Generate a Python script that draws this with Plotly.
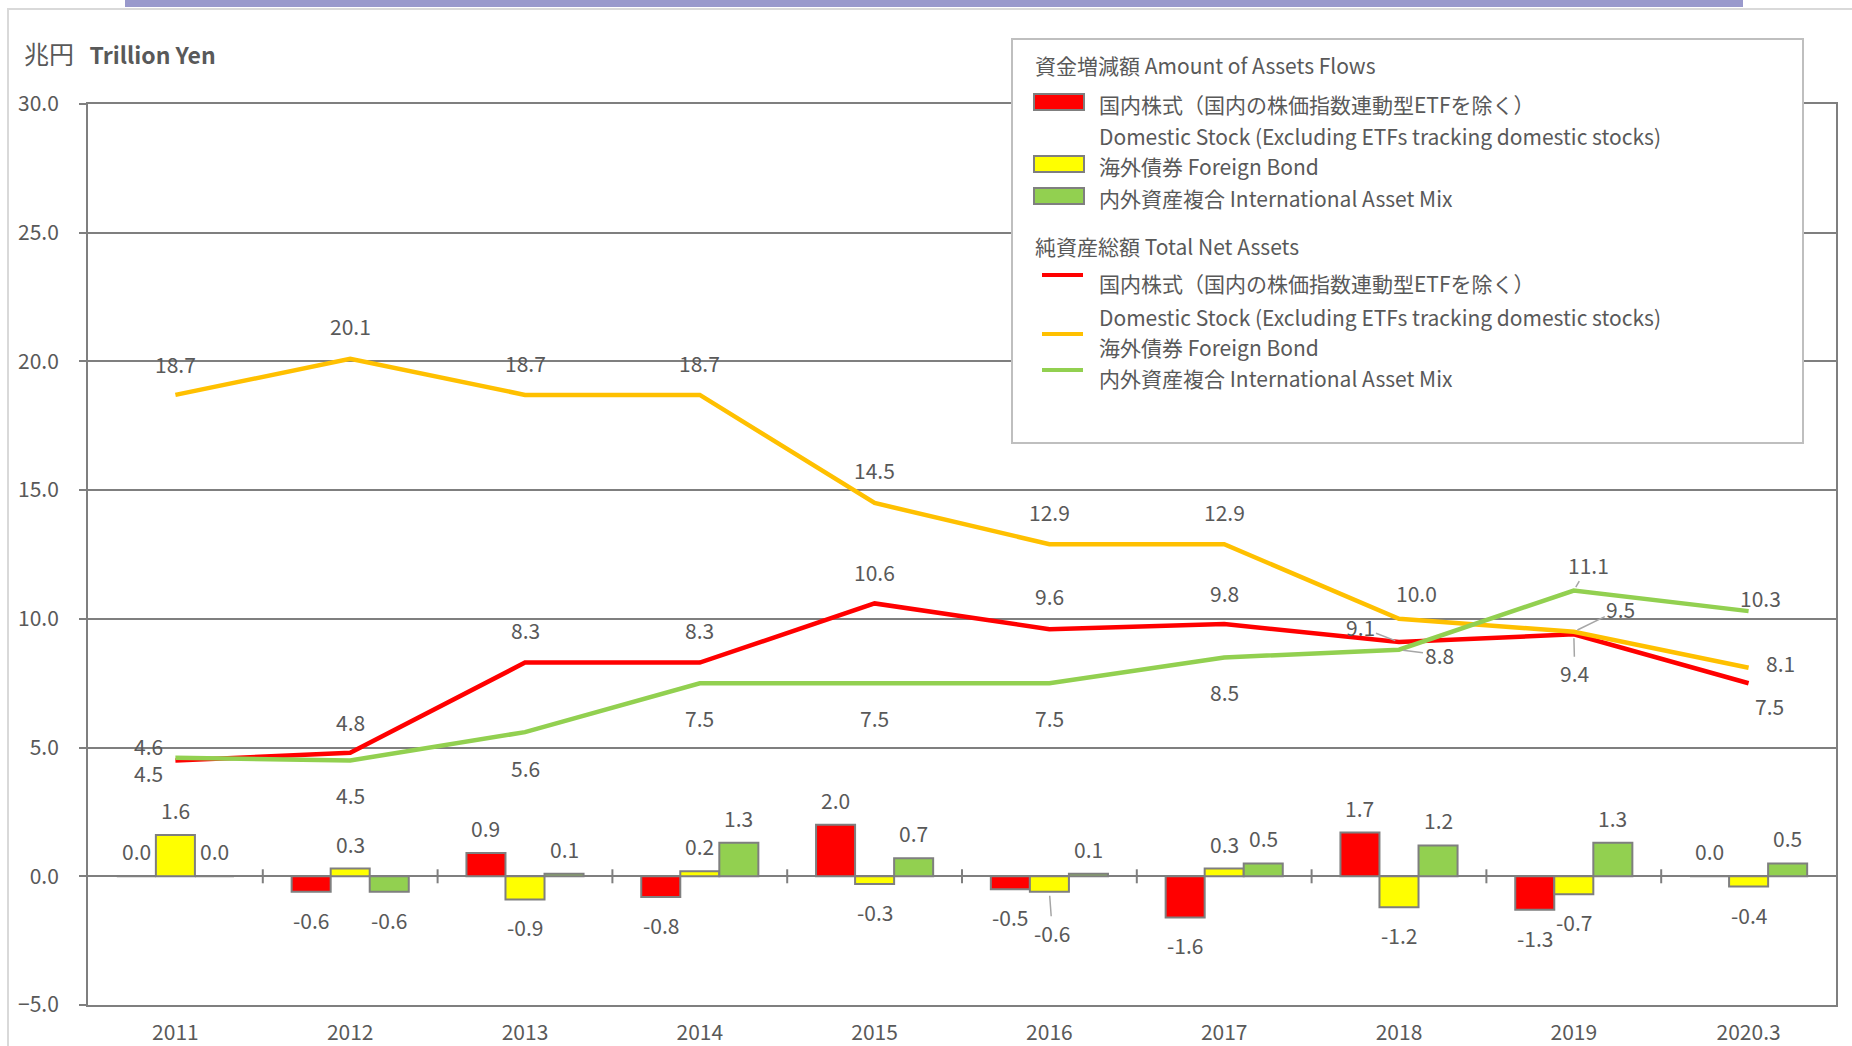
import plotly.graph_objects as go

# ---------------- data ----------------
categories = ["2011", "2012", "2013", "2014", "2015", "2016", "2017", "2018", "2019", "2020.3"]

# 資金増減額 Amount of Assets Flows (bars)
flow_domestic = [0.0, -0.6, 0.9, -0.8, 2.0, -0.5, -1.6, 1.7, -1.3, 0.0]
flow_foreign = [1.6, 0.3, -0.9, 0.2, -0.3, -0.6, 0.3, -1.2, -0.7, -0.4]
flow_mix = [0.0, -0.6, 0.1, 1.3, 0.7, 0.1, 0.5, 1.2, 1.3, 0.5]

# 純資産総額 Total Net Assets (lines)
tna_domestic = [4.5, 4.8, 8.3, 8.3, 10.6, 9.6, 9.8, 9.1, 9.4, 7.5]
tna_foreign = [18.7, 20.1, 18.7, 18.7, 14.5, 12.9, 12.9, 10.0, 9.5, 8.1]
tna_mix = [4.6, 4.5, 5.6, 7.5, 7.5, 7.5, 8.5, 8.8, 11.1, 10.3]

y_tick_values = [-5, 0, 5, 10, 15, 20, 25, 30]

name_domestic_jp = "国内株式（国内の株価指数連動型ETFを除く）"
name_domestic_en = "Domestic Stock (Excluding ETFs tracking domestic stocks)"
name_foreign = "海外債券 Foreign Bond"
name_mix = "内外資産複合 International Asset Mix"
title_flows = "資金増減額 Amount of Assets Flows"
title_tna = "純資産総額 Total Net Assets"
unit_jp = "兆円"
unit_en = "Trillion Yen"

# ---------------- layout constants ----------------
W, H = 1852, 1046
ML, MT = 88, 104
PR, PB = 1836, 1005          # plot right / bottom in px
MR, MB = W - PR, H - PB
PW, PH = PR - ML, PB - MT
BARGAP = 0.33
BAR_W = PW / len(categories) * (1 - BARGAP) / 3

FONT = "Noto Sans CJK JP, Noto Sans, sans-serif"
TXT = "#595959"
GRID = "#7F7F7F"
RED, YELLOW, GREEN, ORANGE = "#FF0000", "#FFFF00", "#92D050", "#FFC000"


def xp(px):
    """pixel x -> paper fraction"""
    return (px - ML) / PW


def yp(py):
    """pixel y -> paper fraction"""
    return (PB - py) / PH


fig = go.Figure()

for vals, col in [(flow_domestic, RED), (flow_foreign, YELLOW), (flow_mix, GREEN)]:
    fig.add_trace(go.Bar(x=categories, y=vals, marker=dict(color=col, line=dict(color=GRID, width=2)),
                         showlegend=False))

for vals, col in [(tna_domestic, RED), (tna_foreign, ORANGE), (tna_mix, GREEN)]:
    fig.add_trace(go.Scatter(x=categories, y=vals, mode="lines", line=dict(color=col, width=4.5),
                             showlegend=False))

annotations = []


def label(i, y, text, ax, ay, xshift=0, leader=False):
    annotations.append(dict(
        x=i, y=y, xref="x", yref="y", text=text, showarrow=True,
        ax=ax, ay=ay, xshift=xshift, arrowhead=0, arrowwidth=1.5,
        arrowcolor="#A6A6A6" if leader else "rgba(0,0,0,0)", standoff=4,
        font=dict(family=FONT, size=21, color=TXT)))


# line-label offsets (pixels) and leader flags
off_foreign = [(0, -31), (0, -33), (0, -32), (0, -32), (0, -33), (0, -32), (0, -32), (17, -26), (47, -23), (32, -5)]
lead_foreign = [False] * 8 + [True, False]
off_domestic = [(-27, 13), (0, -31), (0, -33), (0, -33), (0, -31), (0, -33), (0, -31), (-39, -15), (1, 39), (21, 23)]
lead_domestic = [False] * 7 + [True, True, False]
off_mix = [(-27, -12), (0, 35), (0, 36), (0, 35), (0, 35), (0, 35), (0, 35), (40, 5), (15, -26), (12, -13)]
lead_mix = [False] * 7 + [True, True, False]

for vals, offs, leads in [(tna_foreign, off_foreign, lead_foreign),
                          (tna_domestic, off_domestic, lead_domestic),
                          (tna_mix, off_mix, lead_mix)]:
    for i, (v, (ax, ay), ld) in enumerate(zip(vals, offs, leads)):
        label(i, v, f"{v:.1f}", ax, ay, leader=ld)

for k, vals in enumerate([flow_domestic, flow_foreign, flow_mix]):
    for i, v in enumerate(vals):
        ax, ay, ld = 0, (-25 if v >= 0 else 28), False
        if k == 1 and categories[i] == "2016":
            ax, ay, ld = 3, 41, True
        label(i, v, f"{v:.1f}", ax, ay, xshift=(k - 1) * BAR_W, leader=ld)

# unit title
annotations.append(dict(x=xp(22), y=yp(53), xref="paper", yref="paper", xanchor="left", yanchor="middle",
                        showarrow=False,
                        text=f"<span style='font-size:25px'>{unit_jp}</span>&nbsp;&nbsp;&nbsp;<b>{unit_en}</b>",
                        font=dict(family=FONT, size=23, color=TXT)))

# legend texts (manual legend)
leg_font = dict(family=FONT, size=21, color=TXT)
for text, lx, ly in [(title_flows, 1033, 65),
                     (name_domestic_jp, 1097, 104), (name_domestic_en, 1097, 136),
                     (name_foreign, 1097, 166), (name_mix, 1097, 198),
                     (title_tna, 1033, 246),
                     (name_domestic_jp, 1097, 283), (name_domestic_en, 1097, 317),
                     (name_foreign, 1097, 347), (name_mix, 1097, 378)]:
    annotations.append(dict(x=xp(lx), y=yp(ly), xref="paper", yref="paper", xanchor="left",
                            yanchor="middle", showarrow=False, text=text, font=leg_font))

shapes = []
# outer chart frame and top accent bar
shapes.append(dict(type="rect", xref="paper", yref="paper", x0=xp(8), y0=yp(9), x1=xp(1900), y1=yp(1100),
                   line=dict(color="#D9D9D9", width=2), fillcolor="rgba(0,0,0,0)", layer="below"))
shapes.append(dict(type="rect", xref="paper", yref="paper", x0=xp(125), y0=yp(-2), x1=xp(1743), y1=yp(7),
                   line=dict(width=0), fillcolor="#9999CC", layer="above"))
# tick marks crossing the zero line at category boundaries
for i in range(1, len(categories)):
    shapes.append(dict(type="line", xref="x", yref="y", x0=i - 0.5, x1=i - 0.5, ysizemode="pixel",
                       yanchor=0, y0=-7, y1=7, line=dict(color=GRID, width=2)))
# legend box
shapes.append(dict(type="rect", xref="paper", yref="paper", x0=xp(1012), y0=yp(39), x1=xp(1803), y1=yp(443),
                   line=dict(color="#BFBFBF", width=2), fillcolor="white", layer="above"))
for col, y0, y1 in [(RED, 94, 110), (YELLOW, 156, 172), (GREEN, 188, 204)]:
    shapes.append(dict(type="rect", xref="paper", yref="paper", x0=xp(1034), x1=xp(1084), y0=yp(y0), y1=yp(y1),
                       line=dict(color=GRID, width=2), fillcolor=col, layer="above"))
for col, ly in [(RED, 275), (ORANGE, 334), (GREEN, 370)]:
    shapes.append(dict(type="line", xref="paper", yref="paper", x0=xp(1042), x1=xp(1083), y0=yp(ly), y1=yp(ly),
                       line=dict(color=col, width=4), layer="above"))

fig.update_layout(
    template="none",
    width=W, height=H,
    margin=dict(l=ML, r=MR, t=MT, b=MB, pad=0, autoexpand=False),
    paper_bgcolor="white", plot_bgcolor="white",
    barmode="group", bargap=BARGAP, bargroupgap=0,
    showlegend=False,
    font=dict(family=FONT, size=21, color=TXT),
    xaxis=dict(type="category", range=[-0.5, len(categories) - 0.5], showgrid=False, automargin=False,
               showline=True, mirror=True, linecolor=GRID, linewidth=2, zeroline=False,
               ticks="", ticklabelstandoff=8,
               tickfont=dict(family=FONT, size=21, color=TXT)),
    yaxis=dict(range=[-5, 30], tickvals=y_tick_values, tickformat=".1f", automargin=False,
               showgrid=True, gridcolor=GRID, gridwidth=2,
               zeroline=True, zerolinecolor=GRID, zerolinewidth=2,
               showline=True, mirror=True, linecolor=GRID, linewidth=2,
               ticks="outside", ticklen=7, tickcolor=GRID, tickwidth=2, ticklabelstandoff=16,
               tickfont=dict(family=FONT, size=21, color=TXT)),
    annotations=annotations,
    shapes=shapes,
)

fig.write_html("out.html", config={"displayModeBar": False},
               post_script="document.body.style.margin='0px';document.body.style.overflow='hidden';")
